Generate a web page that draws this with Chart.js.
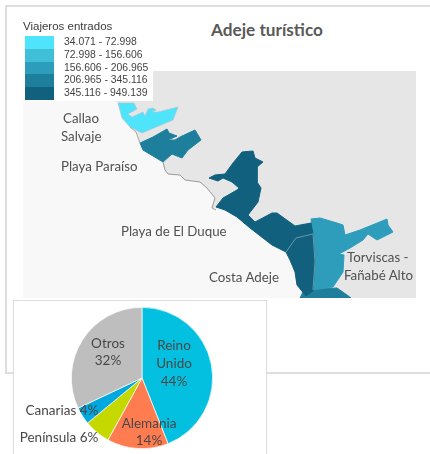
<!DOCTYPE html>
<html lang="es">
<head>
<meta charset="utf-8">
<title>Adeje turístico</title>
<script src="https://cdn.jsdelivr.net/npm/chart.js@4"></script>
<style>
html,body{margin:0;padding:0;background:#fff;width:430px;height:454px;overflow:hidden}
#frame{position:absolute;left:5px;top:5px;width:440px;height:365px;border:2px solid #dedede}
#mapBox{position:absolute;left:23px;top:71px;width:393px;height:227px;filter:blur(0.4px)}
#pieBox{position:absolute;left:13px;top:300px;width:252px;height:160px;background:#fff;border:1px solid #dcdcdc;border-bottom:0}
#pieInner{position:absolute;left:0;top:0;width:252px;height:154px}
#legendBack{position:absolute;left:23px;top:71px;width:130px;height:30px;background:#fff}
.t{position:absolute;white-space:nowrap;font-family:Lato,"Open Sans",sans-serif;font-size:13.3px;color:#505050;line-height:18px}
#title{left:211px;top:19px;font-weight:700;font-size:17.2px;line-height:22px;color:#595959}
#legendTitle{position:absolute;left:23px;top:20px;font:11.5px "Liberation Sans",Arial,sans-serif;color:#3c3c3c;white-space:nowrap}
#legend{position:absolute;left:25px;top:36px}
.row{height:12.8px;position:relative}
.sw{position:absolute;left:0;top:0;width:29px;height:12.8px}
.lb{position:absolute;left:39px;top:0;font:10.4px/12.8px "Liberation Sans",Arial,sans-serif;color:#444;white-space:nowrap}
</style>
</head>
<body>
<div id="frame"></div>
<div id="mapBox"><canvas id="map"></canvas></div>
<div id="legendBack"></div>
<div id="legendTitle">Viajeros entrados</div>
<div id="legend"></div>
<div class="t" id="title">Adeje turístico</div>
<div class="t" style="left:63px;top:109px">Callao</div>
<div class="t" style="left:61px;top:127px">Salvaje</div>
<div class="t" style="left:61px;top:157px">Playa Paraíso</div>
<div class="t" style="left:121px;top:222px">Playa de El Duque</div>
<div class="t" style="left:209px;top:268px">Costa Adeje</div>
<div class="t" style="left:347px;top:248px">Torviscas -</div>
<div class="t" style="left:344px;top:266px">Fañabé Alto</div>
<div id="pieBox"><div id="pieInner"><canvas id="pie"></canvas></div></div>
<script>
// Legend
const legendRanges = ["34.071 - 72.998","72.998 - 156.606","156.606 - 206.965","206.965 - 345.116","345.116 - 949.139"];
const legendColors = ["#4de4fc","#3fc0d8","#2d9dbb","#1e7f9c","#10607e"];

// Map outlines
const callaoSalvaje = [[118,103],[134,103],[137,109],[128,114],[132,117],[143,112],[145,116],[148,109],[153,108],[156,110],[152,112],[158,112],[178,107],[173,120],[142,133],[130,127],[122,118],[118,103]];
const playaParaiso = [[140,143],[153,137],[167,129],[169,133],[177,136],[170,139],[167,140],[175,140],[180,137],[195,130],[201,140],[188,150],[182,158],[172,154],[163,162],[148,153],[143,150],[140,143]];
const playaDuque = [[216,207],[223,198],[237,190],[239,188],[232,182],[223,178],[218,181],[209,178],[215,175],[225,174],[233,163],[242,152],[253,151],[255,158],[263,162],[257,167],[257,182],[261,188],[258,202],[248,215],[255,222],[272,213],[277,213],[295,226],[311,223],[313,234],[296,238],[286,252],[272,245],[250,228],[237,217],[225,210],[216,207]];
const costaAdeje = [[286,252],[296,238],[313,234],[315,262],[313,291],[306,296],[297,285],[295,272],[290,260],[286,252]];
const torviscas = [[311,219],[320,218],[337,223],[343,225],[345,235],[360,230],[387,219],[388,225],[393,232],[383,237],[377,240],[368,234],[363,240],[350,248],[339,254],[344,255],[343,272],[333,287],[313,290],[315,262],[313,235],[311,219]];
const fanabe = [[303,292],[317,289],[337,288],[347,295],[351,298],[300,298],[303,292]];
const innerBorder = [[286,252],[296,238],[313,234],[315,262],[313,290]];
const coastA = [[130,127],[136,132],[140,143]];
const coastB = [[163,162],[165,170],[168,174],[180,175],[185,180],[200,182],[207,188],[215,198],[212,208],[216,210]];
const sea = [[23,71],[70,71],[118,103],[122,118],[130,127],[136,132],[140,143],[143,150],[148,153],[163,162],[165,170],[168,174],[180,175],[185,180],[200,182],[207,188],[215,198],[212,208],[216,208],[225,210],[237,217],[250,228],[272,245],[286,252],[290,260],[295,272],[297,285],[304,298],[23,298],[23,71]];
const land = [[23,71],[416,71],[416,298],[23,298],[23,71]];

// Pie
const pieCategories = ["Reino Unido","Alemania","Península","Canarias","Otros"];
const pieValues = [44,14,6,4,32];
const pieColors = ["#04c0e0","#ff7c50","#c5d800","#00a8e0","#bebebe"];

const legendEl = document.getElementById('legend');
legendRanges.forEach((r,i)=>{
  const row=document.createElement('div');row.className='row';
  row.innerHTML='<div class="sw" style="background:'+legendColors[i]+'"></div><div class="lb">'+r+'</div>';
  legendEl.appendChild(row);
});

function region(data,color,line,width){
  return {data:data.map(p=>({x:p[0],y:p[1]})),showLine:true,fill:false,polyFill:color,borderColor:line||color,borderWidth:width===undefined?1:width,pointRadius:0,tension:0};
}
function stroke(data,color,width){
  return {data:data.map(p=>({x:p[0],y:p[1]})),showLine:true,fill:false,borderColor:color,borderWidth:width,pointRadius:0,tension:0};
}
// Fills each closed outline from the points the scales have placed
const polygonFill = {
  id:'polygonFill',
  beforeDatasetDraw(chart,args){
    const ds=chart.data.datasets[args.index];
    if(!ds.polyFill) return;
    const pts=args.meta.data, c=chart.ctx;
    c.save();
    c.beginPath();
    pts.forEach((p,i)=>{ if(i) c.lineTo(p.x,p.y); else c.moveTo(p.x,p.y); });
    c.closePath();
    c.fillStyle=ds.polyFill;
    c.fill();
    c.restore();
  }
};
new Chart(document.getElementById('map'),{
  type:'scatter',
  data:{datasets:[
    stroke(innerBorder,'#7fa6b7',0.8),
    stroke(coastA,'#a8a8a8',1),
    stroke(coastB,'#999999',1),
    region(callaoSalvaje,legendColors[0],'#a9c9d2',0.7),
    region(playaParaiso,legendColors[3]),
    region(playaDuque,legendColors[4]),
    region(costaAdeje,legendColors[4]),
    region(torviscas,legendColors[2]),
    region(fanabe,legendColors[3]),
    region(sea,'#f8f8f8','#f8f8f8',0),
    region(land,'#e6e6e6','#e6e6e6',0)
  ]},
  options:{
    responsive:true,maintainAspectRatio:false,animation:false,
    layout:{padding:0},
    plugins:{legend:{display:false},tooltip:{enabled:false},title:{display:false}},
    scales:{
      x:{type:'linear',display:false,min:23,max:416},
      y:{type:'linear',display:false,min:71,max:298,reverse:true}
    }
  },
  plugins:[polygonFill]
});

const pieLabelLayout = [
  {lines:["Reino","Unido","44%"],x:160,y:[45,63,81]},
  {lines:["Alemania","14%"],x:135,y:[123,140]},
  {lines:["Península 6%"],x:45,y:[137]},
  {lines:["Canarias 4%"],x:48,y:[110]},
  {lines:["Otros","32%"],x:94,y:[43,60]}
];
const pieLabels = {
  id:'pieLabels',
  afterDatasetsDraw(chart){
    const c=chart.ctx;
    c.save();
    c.font='13.5px Lato,"Open Sans",sans-serif';
    c.fillStyle='#484848';
    c.textAlign='center';
    c.textBaseline='middle';
    pieLabelLayout.forEach(l=>l.lines.forEach((s,i)=>c.fillText(s,l.x,l.y[i])));
    c.restore();
  }
};
new Chart(document.getElementById('pie'),{
  type:'pie',
  data:{labels:pieCategories,datasets:[{data:pieValues,backgroundColor:pieColors,borderColor:'#ffffff',borderWidth:0.7}]},
  options:{
    responsive:true,maintainAspectRatio:false,animation:false,
    layout:{padding:{left:57,right:53,top:6,bottom:6}},
    plugins:{legend:{display:false},tooltip:{enabled:false}}
  },
  plugins:[pieLabels]
});
</script>
</body>
</html>
